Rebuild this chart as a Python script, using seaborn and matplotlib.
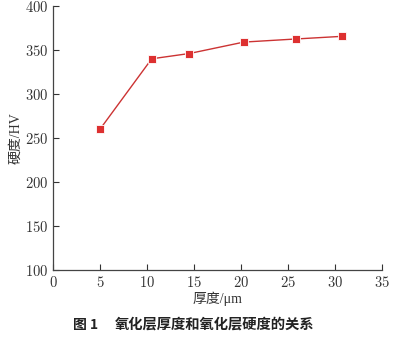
import matplotlib
matplotlib.use("Agg")
import matplotlib.pyplot as plt
import seaborn as sns
import pandas as pd

thickness = [5.0, 10.5, 14.5, 20.3, 25.8, 30.7]
hardness = [260, 340, 346, 359, 362.5, 365.5]
x_ticks = [0, 5, 10, 15, 20, 25, 30, 35]
y_ticks = [100, 150, 200, 250, 300, 350, 400]
xlabel = "厚度/μm"
ylabel = "硬度/HV"
caption_num = "图 1"
caption = "氧化层厚度和氧化层硬度的关系"

sns.set_style("ticks")
plt.rcParams['font.family'] = ['cmr10', 'Noto Sans CJK SC', 'DejaVu Sans']
plt.rcParams['axes.formatter.use_mathtext'] = True

df = pd.DataFrame({"t": thickness, "h": hardness})
fig = plt.figure(figsize=(4.0, 3.45), dpi=100)
ax = fig.add_axes([0.1325, 0.2174, 0.8225, 0.7652])
sns.lineplot(data=df, x="t", y="h", ax=ax, color="#cc3333", lw=1.0,
             marker="s", markersize=5.5, markerfacecolor="#dd3030",
             markeredgecolor="white", markeredgewidth=0.6)
ax.set_xlim(0, 35)
ax.set_ylim(100, 400)
ax.set_xticks(x_ticks)
ax.set_yticks(y_ticks)
ax.tick_params(direction="in", length=4, width=0.8, labelsize=10.5, colors="#333333")
for s in ["top", "right"]:
    ax.spines[s].set_visible(False)
for s in ["left", "bottom"]:
    ax.spines[s].set_color("#444444")
    ax.spines[s].set_linewidth(0.9)
ax.set_xlabel(xlabel, fontsize=10, color="#333333", labelpad=1,
              family=['Liberation Serif', 'Noto Sans CJK SC'])
ax.set_ylabel(ylabel, fontsize=10, color="#333333", labelpad=2,
              family=['Liberation Serif', 'Noto Sans CJK SC'])
fig.text(73/400, 1 - 325/345, caption_num, ha="left", va="center", fontsize=10,
         fontweight="bold", color="#222222",
         family=['Noto Sans CJK SC', 'DejaVu Sans'])
fig.text(115/400, 1 - 325/345, caption, ha="left", va="center", fontsize=10.3,
         fontweight="bold", color="#222222",
         family=['Noto Sans CJK SC', 'DejaVu Sans'])
fig.savefig("out.png", dpi=100)
